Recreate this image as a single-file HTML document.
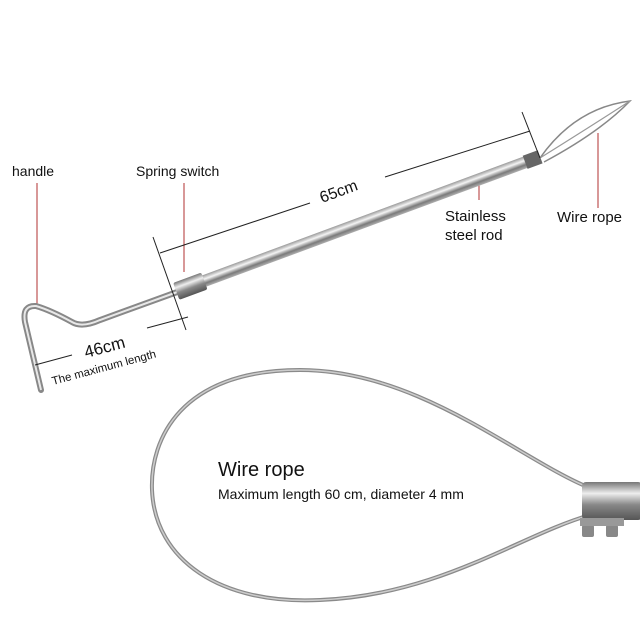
<!DOCTYPE html>
<html><head><style>
body{margin:0;background:#fff}
svg{display:block}
text{font-family:"Liberation Sans",sans-serif;fill:#111}
</style></head><body>
<svg width="640" height="640" viewBox="0 0 640 640">
<defs>
<linearGradient id="rod" x1="0" y1="0" x2="0" y2="1">
<stop offset="0" stop-color="#9a9a9a"/><stop offset="0.35" stop-color="#f4f4f4"/><stop offset="0.7" stop-color="#7a7a7a"/><stop offset="1" stop-color="#b0b0b0"/>
</linearGradient>
<linearGradient id="cyl" x1="0" y1="0" x2="0" y2="1">
<stop offset="0" stop-color="#777"/><stop offset="0.3" stop-color="#eee"/><stop offset="0.6" stop-color="#888"/><stop offset="1" stop-color="#555"/>
</linearGradient>
</defs>
<g stroke="#b03030" stroke-width="1">
<line x1="37" y1="183" x2="37" y2="305"/>
<line x1="184" y1="183" x2="184" y2="272"/>
<line x1="479" y1="183" x2="479" y2="200"/>
<line x1="598" y1="133" x2="598" y2="208"/>
</g>
<path d="M41,390 L25,322 Q22,305 36,306 Q50,310 72,322 Q82,328 100,320 L180,291" fill="none" stroke="#888" stroke-width="6" stroke-linecap="round"/>
<path d="M41,390 L25,322 Q22,305 36,306 Q50,310 72,322 Q82,328 100,320 L180,291" fill="none" stroke="#e8e8e8" stroke-width="2"/>
<g transform="translate(180,290) rotate(-20.3)">
<rect x="0" y="-6" width="378" height="12" fill="url(#rod)"/>
<rect x="-4" y="-9" width="30" height="18" fill="url(#cyl)" rx="2"/>
<rect x="368" y="-7" width="16" height="14" fill="#666"/>
</g>
<path d="M540,158 Q575,108 630,101 Q600,132 544,162" fill="none" stroke="#888" stroke-width="1.5"/>
<path d="M540,158 Q585,130 630,101" fill="none" stroke="#999" stroke-width="1.2"/>
<g stroke="#222" stroke-width="1">
<line x1="153" y1="237" x2="186" y2="330"/>
<line x1="522" y1="112" x2="540" y2="158"/>
<line x1="160" y1="253" x2="310" y2="203"/>
<line x1="385" y1="177" x2="530" y2="131"/>
<line x1="147" y1="328" x2="188" y2="317"/>
<line x1="35" y1="365" x2="72" y2="355"/>
</g>
<text x="0" y="0" font-size="16" transform="translate(322,203) rotate(-20)">65cm</text>
<text x="0" y="0" font-size="17" transform="translate(86,358) rotate(-15)">46cm</text>
<text x="0" y="0" font-size="11.5" transform="translate(53,385) rotate(-15)">The maximum length</text>
<text x="12" y="176" font-size="14">handle</text>
<text x="136" y="176" font-size="14">Spring switch</text>
<text x="445" y="221" font-size="15">Stainless</text>
<text x="445" y="240" font-size="15">steel rod</text>
<text x="557" y="222" font-size="15">Wire rope</text>
<path d="M590,488 C520,460 420,370 300,370 C180,370 150,440 152,490 C155,560 220,605 320,600 C440,595 520,535 590,515" fill="none" stroke="#8a8a8a" stroke-width="4"/>
<path d="M590,488 C520,460 420,370 300,370 C180,370 150,440 152,490 C155,560 220,605 320,600 C440,595 520,535 590,515" fill="none" stroke="#ccc" stroke-width="1.5"/>
<rect x="582" y="482" width="60" height="38" rx="4" fill="url(#cyl)"/>
<rect x="582" y="525" width="12" height="12" fill="#888" rx="2"/>
<rect x="606" y="525" width="12" height="12" fill="#888" rx="2"/>
<rect x="580" y="518" width="44" height="8" fill="#999"/>
<text x="218" y="476" font-size="20">Wire rope</text>
<text x="218" y="499" font-size="14">Maximum length 60 cm, diameter 4 mm</text>
</svg>
</body></html>
